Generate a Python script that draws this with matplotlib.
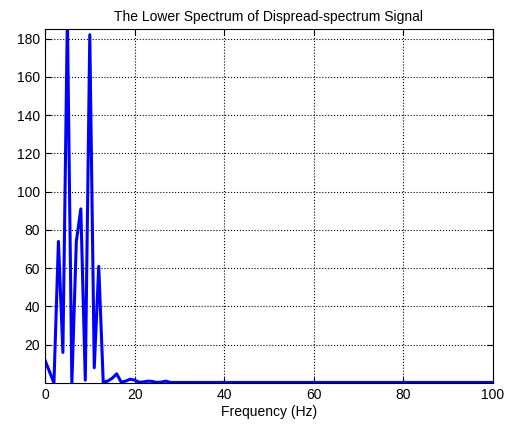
import matplotlib
matplotlib.use("Agg")
import matplotlib.pyplot as plt
import numpy as np

plt.rcParams['font.family'] = ['Liberation Sans', 'DejaVu Sans']

# Spectrum magnitude, 1 Hz bins from 0 to 100 Hz
low_bins = [12, 6, 0, 74, 16, 192, 0, 74, 91, 1.5,
            182, 8, 61, 0.5, 1, 2.5, 4.8, 0.5, 1, 2,
            1.5, 0.4, 0.6, 1, 0.8, 0.3, 0.5, 1, 0.3]
tail_level = 0.3
freq = list(range(0, 101))
mag = low_bins + [tail_level] * (len(freq) - len(low_bins))

x_ticks = [0, 20, 40, 60, 80, 100]
y_ticks = [20, 40, 60, 80, 100, 120, 140, 160, 180]

fig = plt.figure(figsize=(5.10, 4.28), dpi=100)
ax = fig.add_axes([0.0882, 0.1051, 0.8785, 0.8271])

ax.plot(freq, mag, color='#0000ff', linewidth=2.2, clip_on=True)

ax.set_xlim(0, 100)
ax.set_ylim(0, 185)
ax.set_xticks(x_ticks)
ax.set_yticks(y_ticks)
ax.grid(True, color='black', linestyle=':', linewidth=0.8)
ax.tick_params(direction='in', top=True, right=True, labelsize=10, length=4, width=0.8)
for s in ax.spines.values():
    s.set_linewidth(0.8)

ax.set_title('The Lower Spectrum of Dispread-spectrum Signal', fontsize=10)
ax.set_xlabel('Frequency (Hz)', fontsize=10, labelpad=2)

fig.savefig('out.png', dpi=100)
